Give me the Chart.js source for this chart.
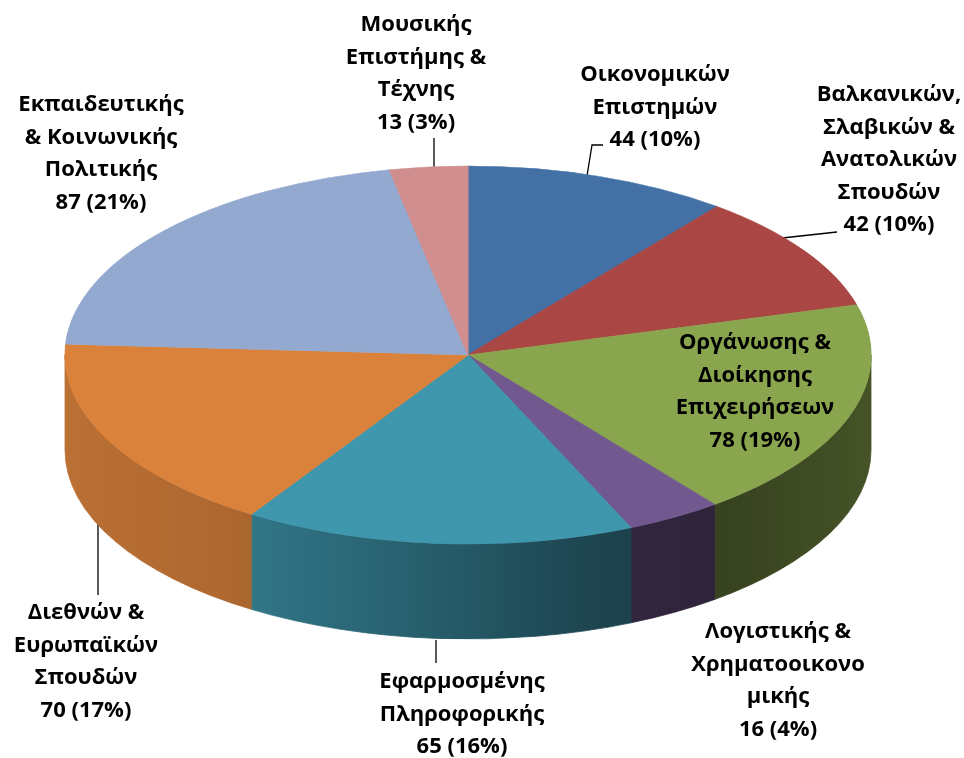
<!DOCTYPE html>
<html><head><meta charset="utf-8">
<script src="https://cdn.jsdelivr.net/npm/chart.js@4/dist/chart.umd.min.js"></script>
<style>html,body{margin:0;padding:0;background:#fff;overflow:hidden}canvas{display:block}</style>
</head><body>
<canvas id="c" width="964" height="758"></canvas>
<script>
// ---- data ----
const categories = [
  ["Οικονομικών","Επιστημών"],
  ["Βαλκανικών,","Σλαβικών &","Ανατολικών","Σπουδών"],
  ["Οργάνωσης &","Διοίκησης","Επιχειρήσεων"],
  ["Λογιστικής &","Χρηματοοικονο","μικής"],
  ["Εφαρμοσμένης","Πληροφορικής"],
  ["Διεθνών &","Ευρωπαϊκών","Σπουδών"],
  ["Εκπαιδευτικής","& Κοινωνικής","Πολιτικής"],
  ["Μουσικής","Επιστήμης &","Τέχνης"]
];
const values = [44, 42, 78, 16, 65, 70, 87, 13];
const percents = [10, 10, 19, 4, 16, 17, 21, 3];
const colors = ["#4371A6","#AA4644","#89A54E","#71588F","#3F97AE","#DA823C","#93A9CF","#D08E8E"];

// ---- layout (label anchors, leader lines) ----
const labelPos = [[655,75],[889,95],[755,343],[778,632],[462,682],[86,613],[101,105],[416,25]];
const lineGap = 32.5;
const leaders = [
  [[603,145],[592,145],[587,176]],
  [[837,232],[782,238]],
  null, null,
  [[436,640],[436,663]],
  [[98,505],[98,595]],
  null,
  [[434,138],[434,168]]
];
const CX = 468, CY = 355, RX = 403, RY = 189, DEPTH = 95;
const FONT = 'bold 22px "Open Sans"';

function rgbOf(hex){return [1,3,5].map(i=>parseInt(hex.substr(i,2),16));}
function shade(hex,f){const c=rgbOf(hex).map(v=>Math.round(v*f));return `rgb(${c[0]},${c[1]},${c[2]})`;}

const pie3d = {
  id: 'pie3d',
  beforeDatasetsDraw(chart){
    const ctx = chart.ctx;
    const meta = chart.getDatasetMeta(0);
    const first = meta.data[0];
    const {x, y, outerRadius} = first.getProps(['x','y','outerRadius'], true);
    // leader lines
    ctx.save();
    ctx.strokeStyle = '#000'; ctx.lineWidth = 1.3;
    leaders.forEach(l=>{ if(!l) return; ctx.beginPath(); ctx.moveTo(l[0][0],l[0][1]); for(let k=1;k<l.length;k++) ctx.lineTo(l[k][0],l[k][1]); ctx.stroke(); });
    ctx.restore();
    // side walls (front half)
    meta.data.forEach((arc,i)=>{
      const s = arc.startAngle, e = arc.endAngle;
      const lo = Math.max(s, 0), hi = Math.min(e, Math.PI);
      if (hi <= lo) return;
      const g = ctx.createLinearGradient(CX-RX,0,CX+RX,0);
      const st = [[0,0.86],[0.2,0.8],[0.45,0.62],[0.65,0.46],[0.82,0.4],[1,0.5]];
      st.forEach(p=>g.addColorStop(p[0], shade(colors[i], p[1])));
      ctx.save();
      ctx.beginPath();
      ctx.ellipse(CX, CY, RX, RY, 0, lo, hi, false);
      ctx.lineTo(CX + RX*Math.cos(hi), CY + DEPTH + RY*Math.sin(hi));
      ctx.ellipse(CX, CY+DEPTH, RX, RY, 0, hi, lo, true);
      ctx.closePath();
      ctx.fillStyle = g;
      ctx.fill();
      ctx.strokeStyle = g; ctx.lineWidth = 0.8; ctx.stroke();
      ctx.restore();
    });
    // squash the pie into the top face
    ctx.save();
    ctx.translate(CX, CY);
    ctx.scale(RX/outerRadius, RY/outerRadius);
    ctx.translate(-x, -y);
  },
  afterDatasetsDraw(chart){
    const ctx = chart.ctx;
    ctx.restore();
    ctx.save();
    ctx.font = FONT;
    ctx.fillStyle = '#000';
    ctx.textAlign = 'center';
    ctx.textBaseline = 'middle';
    categories.forEach((lines,i)=>{
      const all = lines.concat([values[i] + ' (' + percents[i] + '%)']);
      all.forEach((t,k)=>ctx.fillText(t, labelPos[i][0], labelPos[i][1] + k*lineGap));
    });
    ctx.restore();
  }
};

new Chart(document.getElementById('c'), {
  type: 'pie',
  data: {
    labels: categories.map(l=>l.join(' ')),
    datasets: [{
      data: values,
      backgroundColor: colors,
      borderColor: colors,
      borderWidth: 1,
      clip: false
    }]
  },
  options: {
    responsive: false,
    animation: false,
    events: [],
    plugins: { legend: { display: false }, tooltip: { enabled: false } }
  },
  plugins: [pie3d]
});
</script>
</body></html>
